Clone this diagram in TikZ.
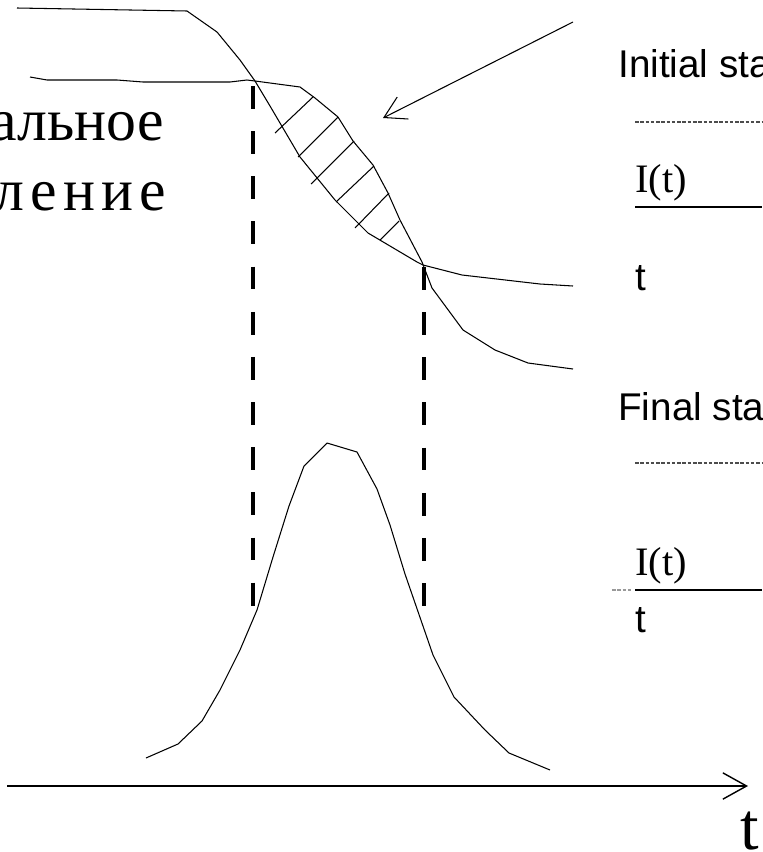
\documentclass[tikz,border=0pt]{standalone}
\usepackage{fontspec}
\setmainfont{Liberation Serif}
\setsansfont{Liberation Sans}
\usetikzlibrary{arrows.meta}
\tikzset{
    curve/.style={line width=0.6pt, line join=round},
    hatch/.style={line width=0.6pt},
    bound/.style={line width=2.8pt, dash pattern=on 13pt off 12.7pt},
    pointer/.style={-{Straight Barb[length=12pt, width=14pt]}, line width=0.6pt},
    axis/.style={-{Straight Barb[length=13.5pt, width=15pt]}, line width=0.8pt},
    rulabel/.style={font=\fontsize{34}{38}\selectfont, inner sep=0pt, anchor=base east},
    legend/.style={font=\sffamily\fontsize{22}{26}\selectfont, inner sep=0pt, anchor=base west},
    formula/.style={font=\fontsize{23}{26}\selectfont, inner sep=0pt, anchor=base west},
    dotline/.style={line width=0.8pt, dash pattern=on 2pt off 1pt, black!70},
    fracline/.style={line width=1.2pt}
}

\begin{document}
\begin{tikzpicture}[x=0.02cm, y=-0.02cm]
\useasboundingbox (0,0) rectangle (762,852);

% two profiles crossing twice
\draw[curve] (17,8) -- (187,11) -- (217,32) -- (240,60) -- (255,81) -- (270,106)
    -- (300,157) -- (335,200) -- (368,233) -- (417,262) -- (423,265)
    -- (462,275) -- (540,284) -- (573,286);
\draw[curve] (30,77) -- (47,80) -- (117,80) -- (143,82) -- (230,82) -- (247,80)
    -- (255,81) -- (300,87) -- (315,98) -- (338,117) -- (353,141) -- (373,165)
    -- (388,193) -- (400,220) -- (422,262) -- (432,288) -- (463,330)
    -- (495,350) -- (528,363) -- (573,369);

% hatched area between them
\foreach \xa/\ya/\xb/\yb in {275/133/313/97, 298/157/338/117, 311/184/354/141,
    336/202/374/166, 355/228/389/193, 380/240/399/221}
    \draw[hatch] (\xa,\ya) -- (\xb,\yb);

\coordinate (ptrstart) at (573,22);
\coordinate (ptrend) at (383,118);
\draw[pointer] (ptrstart) -- (ptrend);

% crossing points down to the pulse
\coordinate (crossa) at (253,86);
\coordinate (crossafoot) at (253,608);
\coordinate (crossb) at (424,267);
\coordinate (crossbfoot) at (424,607);
\draw[bound] (crossa) -- (crossafoot);
\draw[bound] (crossb) -- (crossbfoot);

% pulse
\draw[curve] (146,758) -- (178,744) -- (202,721) -- (220,690) -- (240,650)
    -- (257,610) -- (273,557) -- (289,506) -- (304,466) -- (327,443)
    -- (357,452) -- (377,489) -- (390,525) -- (405,574) -- (433,655)
    -- (454,697) -- (485,730) -- (509,753) -- (550,770);

\coordinate (axstart) at (7,786);
\coordinate (axend) at (748,786);
\draw[axis] (axstart) -- (axend);
\node[font=\fontsize{38}{42}\selectfont, inner sep=0pt, anchor=base west] (tlabel) at (740,849) {t};

\node[rulabel] (rutop) at (164,140) {альное};
\node[rulabel] (rubot) at (166,210) {\addfontfeature{LetterSpace=10}ление};

% legend
\node[legend] (initial) at (618,77) {Initial sta};
\draw[dotline] (635,122) -- (762,122);
\node[formula] (inum) at (635,192) {I(t)};
\draw[fracline] (635,207) -- (762,207);
\node[legend] (iden) at (635,290) {t};

\node[legend] (final) at (618,420) {Final sta};
\draw[dotline] (635,463) -- (762,463);
\node[formula] (fnum) at (635,575) {I(t)};
\draw[dotline, black!40] (612,590) -- (632,590);
\draw[fracline] (635,590) -- (762,590);
\node[legend] (fden) at (635,632) {t};
\end{tikzpicture}
\end{document}
